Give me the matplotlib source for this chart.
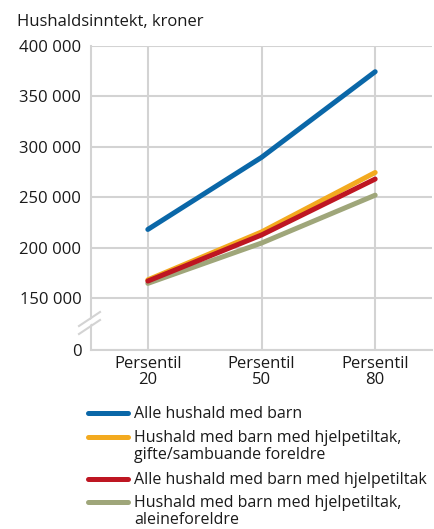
import numpy as np
from matplotlib import pyplot as plt
from matplotlib.lines import Line2D

plt.rcParams['font.family'] = ['Open Sans', 'DejaVu Sans']

# data
categories = ['Persentil\n20', 'Persentil\n50', 'Persentil\n80']
series_names = ['Alle hushald med barn',
                'Hushald med barn med hjelpetiltak,\ngifte/sambuande foreldre',
                'Alle hushald med barn med hjelpetiltak',
                'Hushald med barn med hjelpetiltak,\naleineforeldre']
alle = [218000, 289500, 374500]
gifte = [168000, 215500, 274500]
hjelpetiltak = [166800, 212500, 268000]
aleine = [164500, 204500, 252000]
colors = ['#0a67a8', '#f3aa1f', '#be1622', '#9fa67a']
zorders = [3, 4, 6, 5]

yticks = [0, 150000, 200000, 250000, 300000, 350000, 400000]
ytick_labels = ['0', '150 000', '200 000', '250 000', '300 000', '350 000', '400 000']

# broken axis: 0 is drawn just below 150 000
zero_pos = 98400
def ypos(v):
    return v if v >= 150000 else zero_pos

fs = 12
txt_c = '#1a1a1a'
grid_c = '#d3d3d3'

fig = plt.figure(figsize=(4.34, 5.29), dpi=100)
ax = fig.add_axes([91/434, 1-350/529, 341/434, 304/529])

x = np.arange(len(categories))
for vals, c, z in zip([alle, gifte, hjelpetiltak, aleine], colors, zorders):
    ax.plot(x, vals, color=c, lw=3.6, zorder=z, solid_capstyle='round')

ax.set_xlim(-0.5, 2.5)
ax.set_ylim(zero_pos, 400000)
ax.set_yticks([ypos(v) for v in yticks])
ax.set_yticklabels(ytick_labels)
ax.set_xticks(x)
ax.set_xticklabels(categories, linespacing=1.0)
ax.tick_params(length=0, labelsize=fs, colors=txt_c)
ax.tick_params(axis='y', pad=7)
ax.tick_params(axis='x', pad=4)
ax.grid(True, color=grid_c, lw=1.5, zorder=0)
ax.set_axisbelow(True)
for s in ['top', 'right']:
    ax.spines[s].set_visible(False)
for s in ['left', 'bottom']:
    ax.spines[s].set_color(grid_c)
    ax.spines[s].set_linewidth(1.5)

# break marks on y axis
xb0, xb1 = 79/434, 100/434
fig.add_artist(plt.Polygon([[xb0+1/434, 1-331/529], [xb1, 1-(331-14)/529],
                            [xb1, 1-(328-14)/529], [xb0+1/434, 1-328/529]],
                           closed=True, color='white', zorder=1))
for y0 in [334, 326]:
    fig.add_artist(Line2D([xb0, xb1], [1-y0/529, 1-(y0-14)/529], color=grid_c,
                          lw=1.5, zorder=2))

fig.text(17/434, 1-22/529, 'Hushaldsinntekt, kroner', fontsize=fs,
         color=txt_c, va='center', ha='left')

# legend
leg_y = [413, 437, 479, 502]
for name, c, ly in zip(series_names, colors, leg_y):
    fig.add_artist(Line2D([88/434, 128/434], [1-ly/529, 1-ly/529], color=c,
                          lw=3.6, solid_capstyle='round'))
    fig.text(134/434, 1-(ly-7)/529, name, fontsize=11.5, color=txt_c,
             va='top', ha='left', linespacing=1.12)

fig.savefig('out.png', dpi=100)
